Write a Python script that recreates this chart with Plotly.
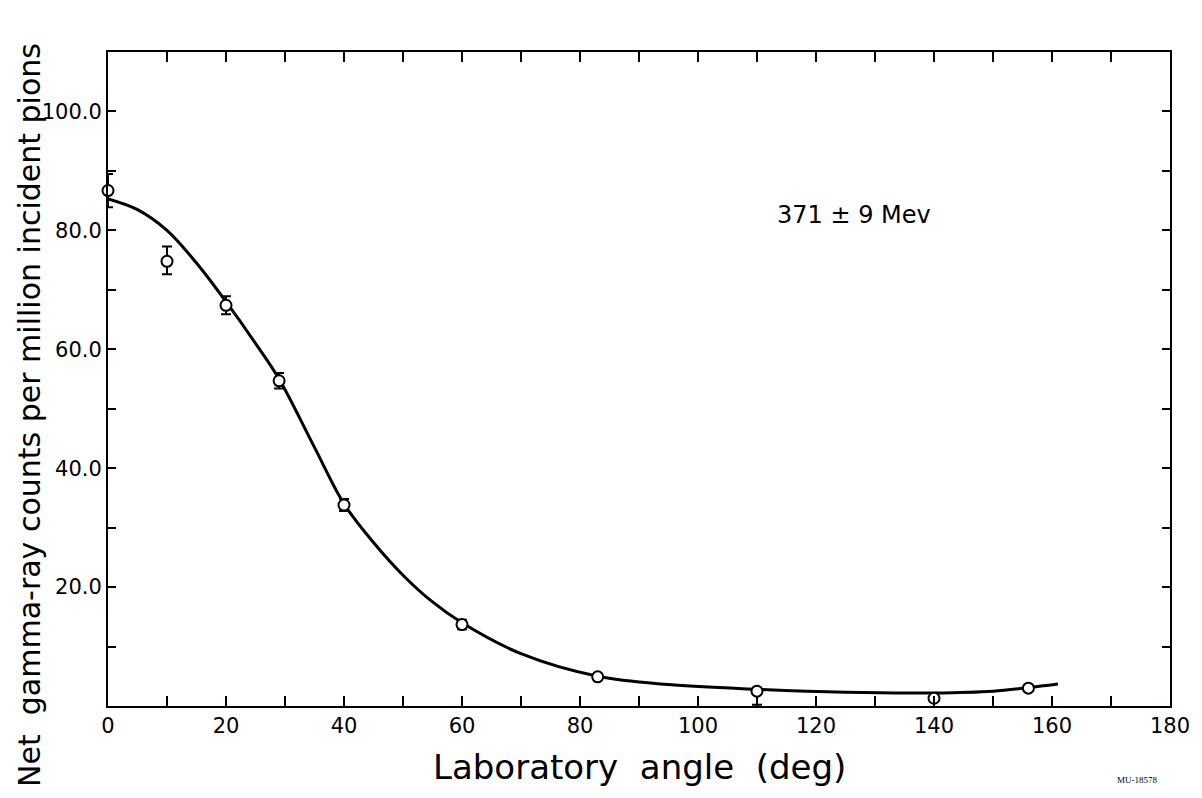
import plotly.graph_objects as go

# Measured data points
angle = [0, 10, 20, 29, 40, 60, 83, 110, 140, 156]
counts = [86.7, 74.8, 67.4, 54.7, 33.8, 13.7, 4.9, 2.5, 1.3, 3.0]
err_plus = [2.8, 2.5, 1.5, 1.3, 1.0, 0.8, 0.5, 0.3, 0.3, 0.3]
err_minus = [2.8, 2.2, 1.5, 1.3, 1.0, 0.8, 0.5, 2.3, 0.3, 0.3]

# Smooth fitted curve
curve_x = [0, 5, 10, 15, 20, 25, 29, 35, 40, 45, 50, 55, 60, 70, 83, 95, 110, 125, 140, 150, 156, 161]
curve_y = [85.3, 83.5, 80.0, 74.5, 68.0, 61.0, 55.0, 43.5, 34.0, 27.5, 22.0, 17.5, 14.0, 8.8, 5.0, 3.6, 2.8, 2.3, 2.2, 2.5, 3.1, 3.7]

x_tickvals = list(range(0, 181, 10))
x_ticktext = [str(v) if v % 20 == 0 else "" for v in x_tickvals]
y_tickvals = list(range(0, 111, 10))
y_ticktext = [f"{v:.1f}" if (v % 20 == 0 and v > 0) else "" for v in y_tickvals]

FONT = "DejaVu Sans"

fig = go.Figure()
fig.add_trace(go.Scatter(
    x=curve_x, y=curve_y, mode="lines",
    line=dict(color="black", width=3, shape="spline", smoothing=1.0),
    hoverinfo="skip", showlegend=False,
))
fig.add_trace(go.Scatter(
    x=angle, y=counts, mode="markers", cliponaxis=False,
    marker=dict(symbol="circle", size=11, color="white", line=dict(color="black", width=2)),
    error_y=dict(type="data", symmetric=False, array=err_plus, arrayminus=err_minus,
                 color="black", thickness=2, width=5),
    showlegend=False,
))

fig.update_xaxes(
    range=[0, 180], tickvals=x_tickvals, ticktext=x_ticktext,
    ticks="inside", ticklen=10, tickwidth=1.5, tickcolor="black",
    showline=True, linecolor="black", linewidth=2, mirror="allticks",
    showgrid=False, zeroline=False,
    tickfont=dict(family=FONT, size=21, color="black"),
)
fig.update_yaxes(
    range=[0, 110], tickvals=y_tickvals, ticktext=y_ticktext,
    ticks="inside", ticklen=8, tickwidth=1.5, tickcolor="black",
    showline=True, linecolor="black", linewidth=2, mirror="allticks",
    showgrid=False, zeroline=False, ticklabelstandoff=0,
    tickfont=dict(family=FONT, size=21, color="black"),
)

fig.add_annotation(text="Laboratory  angle  (deg)", xref="paper", yref="paper",
                   x=0.5, y=-0.093, showarrow=False, xanchor="center", yanchor="middle",
                   font=dict(family=FONT, size=34, color="black"))
fig.add_annotation(text="Net  gamma-ray counts per million incident pions", xref="paper", yref="paper",
                   x=-0.0735, y=0.445, textangle=-90, showarrow=False,
                   xanchor="center", yanchor="middle",
                   font=dict(family=FONT, size=30, color="black"))
fig.add_annotation(text="371 ± 9 Mev", xref="x", yref="y", x=126.5, y=82.6,
                   showarrow=False, font=dict(family=FONT, size=24, color="black"))
fig.add_annotation(text="MU-18578", xref="paper", yref="paper", x=0.99, y=-0.124,
                   showarrow=False, font=dict(family="Liberation Serif", size=9, color="black"))

fig.update_layout(
    width=1202, height=798,
    margin=dict(l=108, r=28, t=52, b=92),
    paper_bgcolor="white", plot_bgcolor="white",
)

fig.write_html("out.html")
